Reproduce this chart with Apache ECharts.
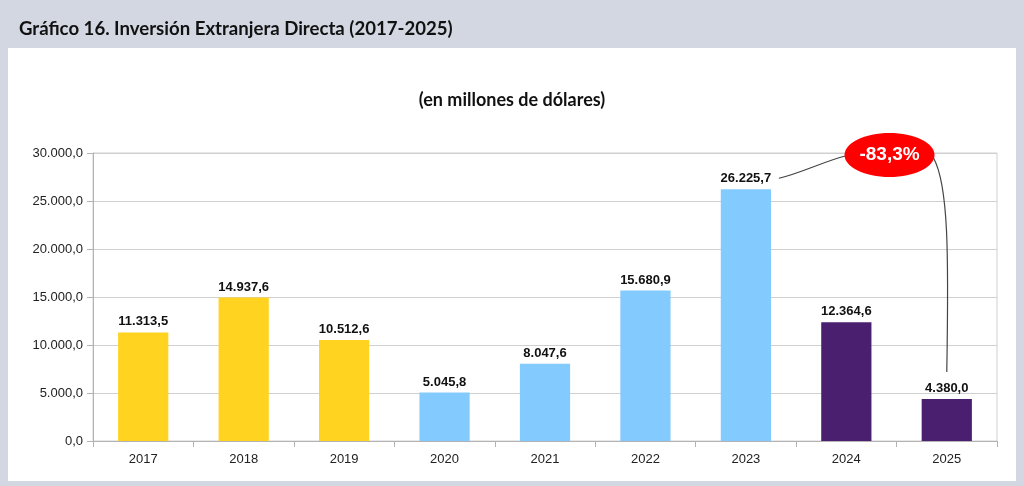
<!DOCTYPE html>
<html><head><meta charset="utf-8">
<script src="https://cdn.jsdelivr.net/npm/echarts@6/dist/echarts.min.js"></script>
<style>html,body{margin:0;padding:0;background:#d3d7e2;}#c{width:1024px;height:486px;}</style>
</head><body><div id="c"></div>
<script>
const years = ['2017','2018','2019','2020','2021','2022','2023','2024','2025'];
const values = [11313.5, 14937.6, 10512.6, 5045.8, 8047.6, 15680.9, 26225.7, 12364.6, 4380.0];
const barColors = ['#FFD320','#FFD320','#FFD320','#83CAFF','#83CAFF','#83CAFF','#83CAFF','#4B1F6F','#4B1F6F'];
const yTicks = [0, 5000, 10000, 15000, 20000, 25000, 30000];
const changeLabel = '-83,3%';

function fmt(v){
  const parts = v.toFixed(1).split('.');
  return parts[0].replace(/\B(?=(\d{3})+(?!\d))/g,'.') + ',' + parts[1];
}
const chart = echarts.init(document.getElementById('c'));
const option = {
  backgroundColor: '#d3d7e2',
  animation: false,
  title: [{
    text: 'Gráfico 16. Inversión Extranjera Directa (2017-2025)',
    left: 14, top: 14,
    textStyle: {fontFamily: 'Lato', fontWeight: 'bold', fontSize: 18.6, color: '#111'}
  },{
    text: '(en millones de dólares)',
    left: 'center', top: 86,
    textStyle: {fontFamily: 'Lato', fontWeight: 'bold', fontSize: 18, color: '#111'}
  }],
  grid: {left: 93, right: 27, top: 153, bottom: 45, show: true, borderColor: '#d0d0d0', borderWidth: 1, backgroundColor: 'transparent'},
  xAxis: {
    type: 'category', data: years,
    axisLine: {lineStyle: {color: '#b3b3b3'}},
    axisTick: {show: true, length: 6, alignWithLabel: false, lineStyle: {color: '#b3b3b3'}},
    axisLabel: {fontFamily: 'Liberation Sans', fontSize: 13, color: '#222', margin: 12}
  },
  yAxis: {
    type: 'value', min: yTicks[0], max: yTicks[yTicks.length-1], interval: 5000,
    axisLine: {show: true, lineStyle: {color: '#b3b3b3'}},
    axisTick: {show: true, length: 6, lineStyle: {color: '#b3b3b3'}},
    splitLine: {lineStyle: {color: '#d0d0d0'}},
    axisLabel: {fontFamily: 'Liberation Sans', fontSize: 13, color: '#222', margin: 10, formatter: v => fmt(v)}
  },
  series: [{
    type: 'bar', barWidth: '50%',
    data: values.map((v,i)=>({value: v, itemStyle: {color: barColors[i]}})),
    label: {show: true, position: 'top', distance: 4, fontFamily: 'Liberation Sans', fontWeight: 'bold', fontSize: 13, color: '#111', formatter: p => fmt(p.value)}
  }],
  graphic: [{type: 'rect', z: -10, silent: true, shape: {x: 8, y: 48, width: 1008, height: 433}, style: {fill: '#ffffff'}}]
};
chart.setOption(option);

// annotation anchored via the chart's own scales
const p23 = chart.convertToPixel({seriesIndex:0}, [6, values[6]]);
const p24 = chart.convertToPixel({seriesIndex:0}, [7, values[7]]);
const p25 = chart.convertToPixel({seriesIndex:0}, [8, values[8]]);
const yTop = chart.convertToPixel({yAxisIndex:0}, 30000);
const cx = p24[0] + 0.43*(p25[0]-p24[0]);
const cy = yTop + 2;
const rx = 45, ry = 22;
chart.setOption({graphic: [
  {type: 'rect', z: -10, silent: true, shape: {x: 8, y: 48, width: 1008, height: 433}, style: {fill: '#ffffff'}},
  {type: 'bezierCurve', z: 100, shape: {x1: p23[0]+33, y1: p23[1]-11, x2: cx-rx+1, y2: cy+1, cpx1: p23[0]+55, cpy1: p23[1]-16, cpx2: cx-rx-20, cpy2: cy+6}, style: {stroke: '#444', lineWidth: 1.2, fill: null}},
  {type: 'bezierCurve', z: 100, shape: {x1: cx+rx-1, y1: cy+3, x2: p25[0], y2: p25[1]-27, cpx1: cx+rx+14, cpy1: cy+30, cpx2: p25[0]+2, cpy2: cy+100}, style: {stroke: '#444', lineWidth: 1.2, fill: null}},
  {type: 'ellipse', z: 101, shape: {cx: cx, cy: cy, rx: rx, ry: ry}, style: {fill: '#FF0000'}},
  {type: 'text', z: 102, x: cx, y: cy, style: {text: changeLabel, fill: '#fff', font: 'bold 19px "Liberation Sans"', textAlign: 'center', textVerticalAlign: 'middle'}}
]});
</script>
</body></html>
